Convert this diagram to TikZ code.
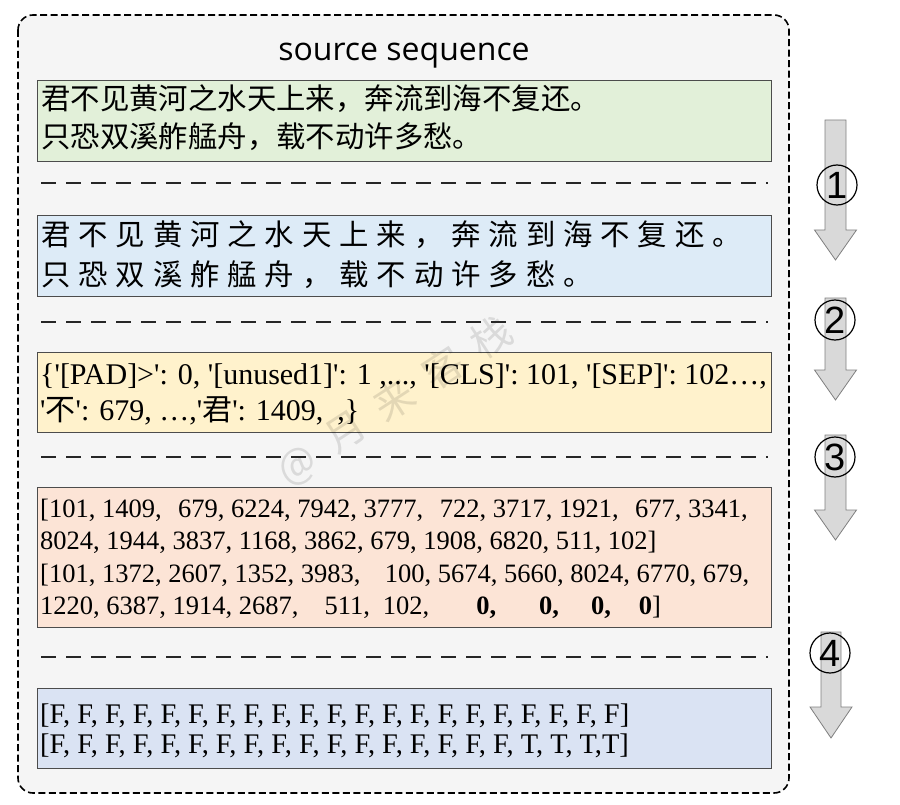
\documentclass[tikz,border=0pt]{standalone}
\usepackage{fontspec}
\setmainfont{Liberation Serif}[Ligatures=TeXOff]
\newfontfamily\cjk{Noto Sans CJK SC}
\newfontfamily\titlefont{Open Sans}
\newfontfamily\arialf{Liberation Sans}
\definecolor{outerbg}{HTML}{F5F5F5}
\definecolor{gbox}{HTML}{E2F0D9}
\definecolor{bbox}{HTML}{DDEBF7}
\definecolor{ybox}{HTML}{FFF2CC}
\definecolor{obox}{HTML}{FCE4D6}
\definecolor{mbox}{HTML}{DAE3F3}
\definecolor{arrfill}{HTML}{D9D9D9}
\definecolor{arrline}{HTML}{7F7F7F}
\newcommand\cg{\hspace{7.9pt}}
\newcommand\blkarrow[6]{%
  \draw[blockarrow] ({#1-#5},#2) -- ({#1+#5},#2) -- ({#1+#5},#3) -- ({#1+#6},#3)
    -- (#1,#4) -- ({#1-#6},#3) -- ({#1-#5},#3) -- cycle;}
\begin{document}
\begin{tikzpicture}[x=1pt,y=-1pt,
  panel/.style={draw=black!70, line width=0.9pt, minimum width=734pt, inner sep=0pt},
  txt/.style={anchor=base west, inner sep=0pt, align=left},
  sepline/.style={line width=1.8pt, black!85, dash pattern=on 15pt off 10pt},
  blockarrow/.style={fill=arrfill, draw=arrline, line width=0.8pt},
  numcirc/.style={draw=black, line width=1.2pt, circle, minimum size=40pt, inner sep=0pt,
    font=\arialf\fontsize{38}{38}\selectfont},
  cjktxt/.style={font=\cjk\fontsize{29.4}{30}\selectfont},
  serif30/.style={font=\fontsize{30}{34}\selectfont},
  serif26/.style={font=\fontsize{26.5}{30}\selectfont},
  serif28/.style={font=\fontsize{28.4}{30}\selectfont}]
\useasboundingbox (0,0) rectangle (900,805);
% outer panel
\draw[fill=outerbg, line width=1.6pt, dash pattern=on 7pt off 3.5pt, rounded corners=15pt]
  (18,15) rectangle (789,793);
\node[font=\titlefont\fontsize{32}{32}\selectfont, inner sep=0pt, anchor=base] (title) at (404,61) {source sequence};
% boxes
\node[panel, fill=gbox, minimum height=81pt] (g) at (404,120.5) {};
\node[panel, fill=bbox, minimum height=81pt] (b) at (404,255.5) {};
\node[panel, fill=ybox, minimum height=80pt] (y) at (404,392) {};
\node[panel, fill=obox, minimum height=140pt] (o) at (404,557) {};
\node[panel, fill=mbox, minimum height=80pt] (m) at (404,728) {};
% watermark
\node[rotate=33, text=black, opacity=0.11, font=\cjk\fontsize{40}{40}\selectfont, inner sep=0pt] (wm) at (395,401)
  {@\hspace{20pt}月\hspace{18pt}来\hspace{18pt}客\hspace{18pt}栈};
% separators
\coordinate (s1a) at (41,183); \coordinate (s1b) at (768,183);
\coordinate (s2a) at (41,322); \coordinate (s2b) at (768,322);
\coordinate (s3a) at (41,457); \coordinate (s3b) at (768,457);
\coordinate (s4a) at (41,657); \coordinate (s4b) at (768,657);
\draw[sepline] (s1a) -- (s1b);
\draw[sepline] (s2a) -- (s2b);
\draw[sepline] (s3a) -- (s3b);
\draw[sepline] (s4a) -- (s4b);
% green text
\node[txt, cjktxt] (g1) at (41,110) {君不见黄河之水天上来，奔流到海不复还。};
\node[txt, cjktxt] (g2) at (41,148) {只恐双溪舴艋舟，载不动许多愁。};
% blue text
\node[txt, cjktxt] (b1) at (41,246) {君\cg 不\cg 见\cg 黄\cg 河\cg 之\cg 水\cg 天\cg 上\cg 来\cg ，\cg 奔\cg 流\cg 到\cg 海\cg 不\cg 复\cg 还\cg 。};
\node[txt, cjktxt] (b2) at (41,286) {只\cg 恐\cg 双\cg 溪\cg 舴\cg 艋\cg 舟\cg ，\cg 载\cg 不\cg 动\cg 许\cg 多\cg 愁\cg 。};
% yellow text
\node[txt, serif30] (y1) at (40,384) {\{'[PAD]>': 0, '[unused1]': 1 ,..., '[CLS]': 101, '[SEP]': 102…,};
\node[txt, serif30] (y2) at (40,420) {'{\cjk\fontsize{30}{30}\selectfont 不}': 679, …,'{\cjk\fontsize{30}{30}\selectfont 君}': 1409,\hspace{14pt},\}};
% orange text
\node[txt, serif26] (o1) at (40,517) {[101, 1409,\hspace{16.5pt}679, 6224, 7942, 3777,\hspace{16.5pt}722, 3717, 1921,\hspace{16.5pt}677, 3341,};
\node[txt, serif26] (o2) at (40,549) {8024, 1944, 3837, 1168, 3862, 679, 1908, 6820, 511, 102]};
\node[txt, serif26] (o3) at (40,582) {[101, 1372, 2607, 1352, 3983,\hspace{24.5pt}100, 5674, 5660, 8024, 6770, 679,};
\node[txt, serif26] (o4) at (40,614) {1220, 6387, 1914, 2687,\hspace{26pt}511,\hspace{13pt}102,\hspace{47pt}\textbf{0,}\hspace{43pt}\textbf{0,}\hspace{32pt}\textbf{0,}\hspace{28pt}\textbf{0}]};
% mask text
\node[txt, serif28] (m1) at (40,723) {[F, F, F, F, F, F, F, F, F, F, F, F, F, F, F, F, F, F, F, F, F]};
\node[txt, serif28] (m2) at (40,753) {[F, F, F, F, F, F, F, F, F, F, F, F, F, F, F, F, F, T, T, T,T]};
% block arrows
\blkarrow{835.5}{120}{230}{260}{10.5}{21}
\blkarrow{835.5}{298}{370}{400}{10.5}{21}
\blkarrow{835.5}{435}{510}{540}{10.5}{21}
\blkarrow{831}{632}{707}{738}{10}{21}
\node[numcirc] (c1) at (837,185) {1};
\node[numcirc] (c2) at (835,320) {2};
\node[numcirc] (c3) at (835,457) {3};
\node[numcirc] (c4) at (830,653) {4};
\end{tikzpicture}
\end{document}
